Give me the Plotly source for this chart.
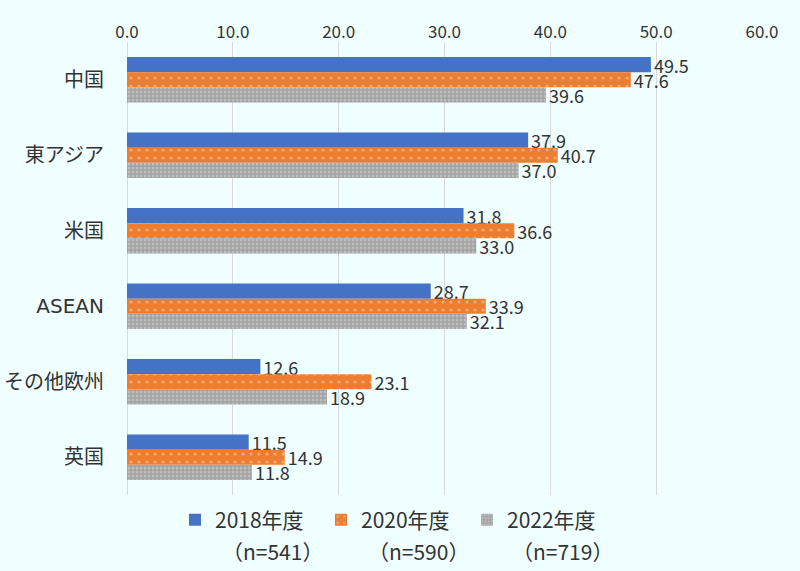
import plotly.graph_objects as go

categories = ["中国", "東アジア", "米国", "ASEAN", "その他欧州", "英国"]
series_names = ["2018年度", "2020年度", "2022年度"]
sample_sizes = ["（n=541）", "（n=590）", "（n=719）"]
v2018 = [49.5, 37.9, 31.8, 28.7, 12.6, 11.5]
v2020 = [47.6, 40.7, 36.6, 33.9, 23.1, 14.9]
v2022 = [39.6, 37.0, 33.0, 32.1, 18.9, 11.8]
x_ticks = [0, 10, 20, 30, 40, 50, 60]

FONT = "Noto Sans CJK JP, Meiryo, sans-serif"
WIDE = "DejaVu Sans, Noto Sans CJK JP, sans-serif"
BG = "#F0FFFF"
W, H = 800, 571
ML, MR, MT, MB = 127, 38, 42, 76

fig = go.Figure()
styles = [
    dict(color="#4472C4"),
    dict(color="#ED7D31", pattern=dict(shape=".", fgcolor="#F9D9C0", bgcolor="#ED7D31", size=8, solidity=0.12)),
    dict(color="#A5A5A5", pattern=dict(shape=".", fgcolor="#D9D9D9", bgcolor="#A0A0A0", size=4, solidity=0.45)),
]
for name, vals, st in zip(series_names, [v2018, v2020, v2022], styles):
    fig.add_trace(go.Bar(
        y=categories, x=vals, name=name, orientation="h",
        marker=dict(line=dict(width=0), **st),
        text=[f"{v:.1f}" for v in vals], textposition="outside",
        constraintext="none",
        textfont=dict(family=FONT, size=18, color="#333333"),
        cliponaxis=False,
    ))

fig.update_layout(
    width=W, height=H,
    margin=dict(l=ML, r=MR, t=MT, b=MB, autoexpand=False),
    paper_bgcolor=BG, plot_bgcolor=BG,
    barmode="group", bargap=0.4, bargroupgap=0,
    font=dict(family=FONT, size=15, color="#333333"),
    xaxis=dict(range=[0, 60], tickvals=x_ticks, ticktext=[f"{t:.1f}" for t in x_ticks],
               side="top", showgrid=True, gridcolor="#D9D9D9", gridwidth=1,
               zeroline=True, zerolinecolor="#D9D9D9", zerolinewidth=1,
               showline=False, ticks="", automargin=False,
               tickfont=dict(family=FONT, size=17, color="#333333")),
    yaxis=dict(autorange="reversed", showgrid=False, ticks="", showline=False,
               automargin=False,
               tickfont=dict(family=WIDE, size=20, color="#333333"), ticklabelstandoff=22),
    showlegend=True,
    legend=dict(orientation="h", x=(175 - ML) / (W - ML - MR), xanchor="left",
                y=-0.01, yanchor="top",
                font=dict(size=21), entrywidth=101, bgcolor="rgba(0,0,0,0)"),
)
n_x = [272, 418, 562]
for s, xp in zip(sample_sizes, n_x):
    fig.add_annotation(text=s, xref="paper", yref="paper",
                       x=(xp - ML) / (W - ML - MR), y=(H - MB - 551) / (H - MT - MB),
                       xanchor="center", yanchor="middle", showarrow=False,
                       font=dict(size=21, color="#333333"))

fig.write_html("out.html")
